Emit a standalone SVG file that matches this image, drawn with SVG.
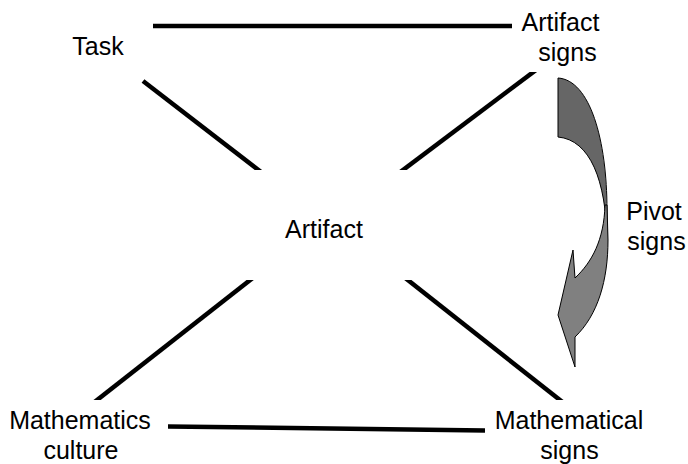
<svg xmlns="http://www.w3.org/2000/svg" width="688" height="464" viewBox="0 0 688 464">
<style>
  .lbl { font-family: "Liberation Sans", Arial, sans-serif; font-size: 25px; fill: #000; text-anchor: middle; }
  .edge { stroke: #000; stroke-width: 4.5; fill: none; stroke-linecap: butt; }
  .arrow { stroke: #000; stroke-width: 1; stroke-linejoin: round; }
</style>
<defs>
  <clipPath id="bands">
    <rect x="0" y="72" width="688" height="98"/>
    <rect x="0" y="280" width="688" height="120"/>
  </clipPath>
</defs>
<rect width="688" height="464" fill="#fff"/>
<g id="connectors">
  <line class="edge" x1="153" y1="26" x2="512" y2="26"/>
  <line class="edge" x1="168" y1="426.5" x2="485" y2="430.5"/>
  <g clip-path="url(#bands)">
    <line class="edge" x1="143" y1="81" x2="261" y2="172"/>
    <line class="edge" x1="540" y1="67" x2="399" y2="173"/>
    <line class="edge" x1="254" y1="277" x2="92" y2="404"/>
    <line class="edge" x1="404" y1="277" x2="565" y2="404"/>
  </g>
</g>
<g id="pivot-arrow">
  <path class="arrow" fill="#666666" d="M558,78 C590,80 607,140 607,210 L607,240 C606,180 590,140 558,137 Z"/>
  <path class="arrow" fill="#808080" d="M605,205 C604,240 592,262 575,278 L573,250 L558,315 L575,367 L575,337 C598,315 608,280 608,240 L607,205 Z"/>
</g>
<g id="task"><text class="lbl" x="98" y="55">Task</text></g>
<g id="artifact-signs"><text class="lbl" x="560.5" y="31">Artifact</text><text class="lbl" x="567.5" y="61">signs</text></g>
<g id="artifact"><text class="lbl" x="324" y="238">Artifact</text></g>
<g id="pivot-signs"><text class="lbl" x="654" y="220">Pivot</text><text class="lbl" x="656.5" y="250">signs</text></g>
<g id="mathematics-culture"><text class="lbl" x="80" y="429">Mathematics</text><text class="lbl" x="81" y="459">culture</text></g>
<g id="mathematical-signs"><text class="lbl" x="569" y="429">Mathematical</text><text class="lbl" x="569.5" y="459">signs</text></g>
</svg>
